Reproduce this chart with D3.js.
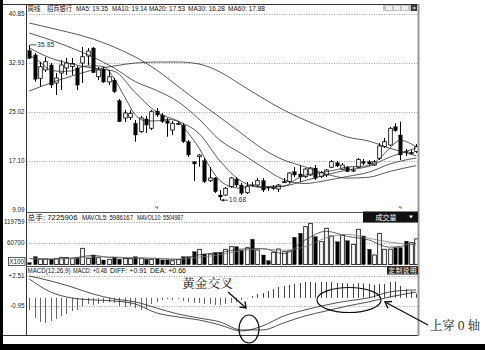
<!DOCTYPE html>
<html><head><meta charset="utf-8">
<script src="https://cdn.jsdelivr.net/npm/d3@7"></script>
<style>body{margin:0;background:#fff;} svg{display:block;}</style>
</head><body>
<svg id="c" width="485" height="350"></svg>
<script>
// ---------- data ----------
const open =[34.90,34.21,30.43,31.78,32.59,29.67,31.29,32.10,32.34,32.10,32.91,34.04,35.34,30.69,31.94,29.83,30.15,26.80,24.00,24.11,23.14,21.78,23.84,22.33,25.13,24.48,23.56,22.05,23.11,22.86,20.16,16.92,17.73,17.08,13.84,14.28,11.52,11.52,12.87,14.11,13.14,11.89,13.17,13.14,13.84,12.80,12.74,12.49,13.63,13.68,15.30,14.92,14.49,14.76,15.89,14.49,14.76,16.01,16.75,15.69,16.01,15.54,16.01,16.92,16.92,16.38,17.47,19.35,19.62,22.59,21.24,18.57,18.36,18.57];
const high =[35.85,34.53,33.12,33.88,32.91,31.29,33.40,33.72,33.72,32.42,35.50,35.34,35.50,32.26,32.26,31.78,30.48,27.08,25.29,25.29,23.67,24.32,24.32,25.29,25.62,24.81,24.00,23.51,23.51,23.19,20.43,17.03,18.17,17.52,16.06,14.44,12.33,12.82,14.44,14.44,13.46,13.63,13.63,14.28,14.28,12.98,13.14,13.30,14.28,15.25,16.06,16.38,15.89,16.06,16.38,15.41,15.73,17.19,17.03,16.71,16.22,16.06,17.52,17.35,17.19,17.19,19.95,20.76,22.54,23.14,23.40,18.97,18.81,19.78];
const low  =[33.56,29.88,29.07,31.45,28.86,27.73,28.53,30.97,30.97,28.53,29.67,32.59,31.29,30.15,29.67,29.34,28.05,23.35,23.35,23.67,20.16,21.57,21.57,22.05,24.16,23.19,20.97,21.24,22.86,19.95,17.68,13.79,16.10,13.46,13.63,11.85,10.68,11.36,12.65,12.82,11.52,11.68,12.82,12.82,12.01,12.17,12.33,12.01,13.46,13.46,14.44,13.63,14.28,14.60,13.95,14.28,14.44,15.89,16.06,15.57,15.25,15.25,15.89,16.38,16.38,16.22,17.19,19.14,19.46,21.78,17.19,17.84,18.00,18.33];
const close=[33.67,30.27,32.31,33.12,29.34,30.48,32.59,32.91,32.83,29.34,33.93,34.85,31.34,31.78,29.83,30.69,28.26,23.40,24.81,24.76,21.24,24.00,22.86,25.02,24.48,23.40,23.14,23.14,23.14,20.16,18.00,16.54,18.00,13.68,14.28,12.06,11.20,12.61,14.28,13.14,11.80,12.98,13.14,13.84,12.33,12.77,12.77,13.14,13.68,15.09,14.76,14.44,15.73,15.89,14.23,15.13,15.57,16.92,16.22,16.38,15.30,15.57,17.30,16.65,16.54,16.92,19.46,20.16,22.33,21.94,18.00,18.54,18.40,19.35];
const volume=[5300,22200,15700,15900,15600,17700,20500,20300,17700,19400,45800,17600,27000,19400,12900,14900,20500,14900,17700,17500,22200,17700,14900,14800,17700,12900,13000,11000,14900,22200,22000,36300,43000,29800,29900,33500,33400,43000,50300,50400,41100,47500,71100,41000,27000,11000,34600,43900,36300,38200,76800,88000,106600,116100,78500,64400,102100,80400,64300,83200,67200,57100,99300,80500,43000,27000,88000,43100,43500,47500,47600,65500,61600,72259];
const macdBar=[-1.4,-2.33,-2.79,-2.9,-2.68,-2.45,-2.1,-1.87,-1.52,-1.4,-0.95,-0.72,-0.83,-0.72,-0.6,-0.48,-0.6,-0.95,-1.06,-0.95,-1.18,-1.4,-1.29,-0.72,-0.48,-0.25,-0.14,-0.25,-0.14,-0.37,-0.48,-0.6,-0.6,-0.72,-0.72,-0.83,-0.83,-0.72,-0.6,-0.48,-0.25,-0.08,0.2,0.44,0.55,0.78,1.0,1.25,1.36,1.48,1.6,1.7,1.82,1.82,1.76,1.82,1.82,1.82,1.7,1.7,1.65,1.6,1.7,1.65,1.6,1.48,1.6,1.6,1.82,1.88,1.36,1.0,0.78,0.48];

const ma5Weeks=[0,2,4,6,8,10,12,14,16,18,20,22,24,26,28,30,32,34,36,38,40,42,44,46,48,50,52,54,56,58,60,62,64,66,68,70,72,73];
const ma5=[34.21,33.07,31.74,31.56,31.63,32.33,32.46,32.34,30.38,27.40,24.50,23.53,23.53,23.79,23.46,21.52,19.17,16.13,13.84,12.88,12.61,13.06,12.82,12.96,12.93,13.89,14.74,15.00,15.31,15.62,16.07,16.15,16.27,17.37,19.09,20.39,19.83,19.35];
const maWeeks=[0,4,8,12,16,20,24,28,32,36,40,44,48,52,56,60,64,68,73];
const ma10=[35.34,33.72,32.75,32.07,31.58,28.10,24.95,23.53,21.50,17.01,13.76,12.74,12.96,13.85,14.78,15.57,16.16,17.66,19.14];
const ma20=[37.77,36.64,35.34,33.88,32.10,29.90,28.47,26.67,23.84,20.37,18.25,16.04,14.02,13.38,13.87,14.52,15.20,16.53,17.53];
const ma30=[39.39,38.58,37.77,36.80,35.50,33.88,31.78,29.18,26.57,24.09,21.53,19.01,17.19,16.09,14.92,14.26,14.39,15.34,16.28];
const ma60=[28.37,29.67,30.80,31.78,32.42,32.91,33.07,33.07,32.75,31.45,29.34,27.24,25.29,23.67,22.22,20.92,20.27,19.10,17.88];
const mavol5=[17000,15000,18360,25500,18940,18560,17460,13900,27680,33920,43640,45540,30560,69180,93540,79440,69420,48920,59862];
const mavol10=[17000,16000,17000,21750,21550,18460,17280,15660,20780,27600,39070,43830,40390,50340,75090,85080,74150,63190,55049];
const diff=[2.17,0.67,-0.02,-0.25,-0.37,-0.72,-1.75,-2.21,-2.56,-3.14,-3.83,-3.25,-2.10,-1.41,-0.83,-0.37,-0.02,0.67,0.91];
const dea=[2.51,1.94,1.25,0.44,-0.14,-0.48,-1.18,-1.87,-2.33,-2.79,-3.71,-3.71,-2.90,-2.10,-1.52,-0.95,-0.48,0.09,0.66];

const priceTicks=[40.85,32.93,25.02,17.10,9.09];
const volTicks=[119759,60700];
const volTickLabels=["119759","60700"];
const macdTicks=[2.51,-0.95];
const macdTickLabels=["+2.51","-0.95"];

const priceHeader=[["周线",27.5,13],["招商银行",47,25],["MA5: 19.35",76,32],["MA10: 19.14",112,35],["MA20: 17.53",149,36],["MA30: 16.28",188,37],["MA60: 17.88",228,37]];
const volHeader=[["总手: 7225906",27.5,50],["MAVOL5: 5986167",82,51],["MAVOL10: 5504987",137,46]];
const macdHeader=[["MACD(12,26,9)",27.5,43],["MACD: +0.48",73,34],["DIFF: +0.91",110,37],["DEA: +0.66",150,36]];

// ---------- drawing ----------
const svg=d3.select('#c');
const L=26.5, R=418;
const FONT="'Liberation Sans','Noto Sans CJK SC',sans-serif";
const x=d3.scaleLinear().domain([0,73]).range([29.3,416.2]);
const yP=d3.scaleLinear().domain([9.09,40.85]).range([210,14]);
const yV=d3.scaleLinear().domain([0,119759]).range([264.6,222]);
const yM=d3.scaleLinear().domain([-0.95,2.51]).range([306,276]);

svg.append('rect').attr('width',485).attr('height',350).attr('fill','#fff');

// grid
const grid=svg.append('g').attr('stroke','#8a8a8a').attr('stroke-width',0.8).attr('stroke-dasharray','1,1.5');
priceTicks.slice(0,4).forEach(t=>grid.append('line').attr('x1',L).attr('x2',R).attr('y1',Math.round(yP(t))+0.5).attr('y2',Math.round(yP(t))+0.5));
volTicks.forEach(t=>grid.append('line').attr('x1',L).attr('x2',R).attr('y1',Math.round(yV(t))+0.5).attr('y2',Math.round(yV(t))+0.5));
macdTicks.forEach(t=>grid.append('line').attr('x1',L).attr('x2',R).attr('y1',Math.round(yM(t))+0.5).attr('y2',Math.round(yM(t))+0.5));

// axis labels
const lab=svg.append('g').attr('font-family',FONT).attr('font-size',6.3).attr('fill','#222').attr('text-anchor','end');
priceTicks.forEach(t=>lab.append('text').attr('x',24.5).attr('y',yP(t)+2.2).text(t.toFixed(2)));
volTicks.forEach((t,k)=>lab.append('text').attr('x',24.5).attr('y',yV(t)+2.2).text(volTickLabels[k]));
macdTicks.forEach((t,k)=>lab.append('text').attr('x',24.5).attr('y',yM(t)+2.2).text(macdTickLabels[k]));
svg.append('rect').attr('x',8.5).attr('y',257.5).attr('width',16.5).attr('height',8).attr('fill','none').attr('stroke','#333').attr('stroke-width',0.8);
lab.append('text').attr('x',24).attr('y',264).text('X100');

// candles
const cg=svg.append('g');
open.forEach((o,i)=>{
  const c=close[i], xc=Math.round(x(i))+0.5, up=c>=o;
  cg.append('line').attr('x1',xc).attr('x2',xc).attr('y1',yP(high[i])).attr('y2',yP(low[i])).attr('stroke','#000').attr('stroke-width',1);
  const y0=yP(Math.max(o,c)), h=Math.max(1,Math.abs(yP(o)-yP(c)));
  cg.append('rect').attr('x',xc-1.8).attr('y',y0).attr('width',3.6).attr('height',h)
    .attr('fill',up?'#fff':'#000').attr('stroke','#000').attr('stroke-width',up?0.8:0.3);
});

// volume bars
const vg=svg.append('g');
volume.forEach((v,i)=>{
  const up=close[i]>=open[i], xc=Math.round(x(i))+0.5;
  vg.append('rect').attr('x',xc-1.8).attr('y',yV(v)).attr('width',3.6).attr('height',yV(0)-yV(v))
    .attr('fill',up?'#fff':'#000').attr('stroke','#000').attr('stroke-width',up?0.8:0.3);
});

// macd bars
const mg=svg.append('g');
macdBar.forEach((m,i)=>{
  const xc=Math.round(x(i))+0.5;
  mg.append('line').attr('x1',xc).attr('x2',xc).attr('y1',yM(0)).attr('y2',yM(m)).attr('stroke',i<42?'#666':'#444').attr('stroke-width',1);
});

// lines
function drawLine(weeks,vals,ys,color,w){
  const ln=d3.line().x((d,k)=>x(weeks[k])).y(d=>ys(d)).curve(d3.curveMonotoneX);
  svg.append('path').attr('d',ln(vals)).attr('fill','none').attr('stroke',color).attr('stroke-width',w);
}
drawLine(ma5Weeks,ma5,yP,'#222',0.75);
drawLine(maWeeks,ma10,yP,'#222',0.75);
drawLine(maWeeks,ma20,yP,'#222',0.75);
drawLine(maWeeks,ma30,yP,'#222',0.75);
drawLine(maWeeks,ma60,yP,'#222',0.75);
drawLine(maWeeks,mavol5,yV,'#333',0.75);
drawLine(maWeeks,mavol10,yV,'#777',0.75);
drawLine(maWeeks,diff,yM,'#222',0.8);
drawLine(maWeeks,dea,yM,'#222',0.8);

// high / low markers
const mk=svg.append('g').attr('font-family',FONT).attr('font-size',6.3).attr('fill','#222');
mk.append('line').attr('x1',x(0)+1).attr('x2',x(0)+7).attr('y1',yP(35.85)).attr('y2',yP(35.85)).attr('stroke','#222').attr('stroke-width',0.8);
mk.append('text').attr('x',x(0)+8).attr('y',yP(35.85)+2.2).attr('textLength',17).text('35.85');
mk.append('line').attr('x1',x(36)+1).attr('x2',x(36)+8).attr('y1',yP(10.68)).attr('y2',yP(10.68)).attr('stroke','#222').attr('stroke-width',0.8);
mk.append('path').attr('d',`M${x(36)+1},${yP(10.68)} l3,-1.5 l0,3 z`).attr('fill','#222');
mk.append('text').attr('x',x(36)+9).attr('y',yP(10.68)+2.2).attr('textLength',17).text('10.68');
mk.append('text').attr('x',155).attr('y',209).attr('font-size',6).text('ч');
mk.append('text').attr('x',398.5).attr('y',209).attr('font-size',6).text('ч');

// headers
function header(items,y){
  const g=svg.append('g').attr('font-family',FONT).attr('font-size',6.5).attr('fill','#111');
  items.forEach(([t,xx,w])=>g.append('text').attr('x',xx).attr('y',y).attr('textLength',w).attr('lengthAdjust','spacingAndGlyphs').text(t));
}
header(priceHeader,11);
header(volHeader,219.5);
header(macdHeader,273.3);

// frame
const fr=svg.append('g').attr('fill','none');
fr.append('line').attr('x1',3).attr('x2',R).attr('y1',4.5).attr('y2',4.5).attr('stroke','#333');
fr.append('line').attr('x1',3).attr('x2',R).attr('y1',335.5).attr('y2',335.5).attr('stroke','#333');
fr.append('line').attr('x1',L).attr('x2',L).attr('y1',4.5).attr('y2',335.5).attr('stroke','#333');
fr.append('line').attr('x1',L).attr('x2',R).attr('y1',212.5).attr('y2',212.5).attr('stroke','#555');
fr.append('line').attr('x1',L).attr('x2',R).attr('y1',266.5).attr('y2',266.5).attr('stroke','#555');
fr.append('line').attr('x1',R+0.5).attr('x2',R+0.5).attr('y1',4).attr('y2',336).attr('stroke','#999').attr('stroke-width',2);
svg.append('rect').attr('x',0).attr('y',0).attr('width',3).attr('height',350).attr('fill','#000');
svg.append('rect').attr('x',0).attr('y',344).attr('width',485).attr('height',6).attr('fill','#000');

// top-right icon
svg.append('rect').attr('x',383).attr('y',5).attr('width',34).attr('height',6).attr('fill','#c4c4c4');
[386,394,402].forEach(xx=>svg.append('rect').attr('x',xx).attr('y',6).attr('width',6).attr('height',4).attr('fill','#eee'));
svg.append('rect').attr('x',411).attr('y',5).attr('width',6).attr('height',6).attr('fill','#333');
svg.append('path').attr('d','M412,8 h3 M414,6.5 l1.5,1.5 l-1.5,1.5').attr('stroke','#fff').attr('stroke-width',0.8).attr('fill','none');

// 成交量 box
svg.append('rect').attr('x',363).attr('y',211.5).attr('width',55).attr('height',11).attr('fill','#111');
svg.append('text').attr('x',386).attr('y',219.5).attr('text-anchor','middle').attr('font-family',FONT).attr('font-size',7).attr('fill','#fff').text('成交量');
svg.append('path').attr('d','M409,215.5 h4 l-2,3 z').attr('fill','#fff');
// 定制说明 box
svg.append('rect').attr('x',387).attr('y',266.5).attr('width',31).attr('height',8).attr('fill','#222');
svg.append('text').attr('x',402.5).attr('y',273).attr('text-anchor','middle').attr('font-family',FONT).attr('font-size',6.5).attr('fill','#fff').attr('textLength',28).text('定制说明');

// annotations
const an=svg.append('g').attr('stroke','#111').attr('fill','none');
an.append('ellipse').attr('cx',249).attr('cy',329).attr('rx',10).attr('ry',14).attr('stroke-width',1.2);
an.append('ellipse').attr('cx',349).attr('cy',300).attr('rx',32).attr('ry',12.5).attr('stroke-width',1.2);
an.append('line').attr('x1',228).attr('y1',292).attr('x2',246).attr('y2',308).attr('stroke-width',1.4);
an.append('path').attr('d','M239.5,307 L246,308 L245,301.5').attr('stroke-width',1.4);
an.append('line').attr('x1',428).attr('y1',325).attr('x2',385).attr('y2',302).attr('stroke-width',1.4);
an.append('path').attr('d','M388,308.5 L385,302 L392,301.5').attr('stroke-width',1.4);
const at=svg.append('g').attr('font-family',"'Noto Serif CJK SC','Noto Sans CJK SC',serif").attr('fill','#111');
at.append('text').attr('x',182).attr('y',288).attr('font-size',12.5).attr('textLength',51).attr('lengthAdjust','spacingAndGlyphs').text('黄金交叉');
at.append('text').attr('x',430).attr('y',329.5).attr('font-size',12).attr('textLength',50).attr('lengthAdjust','spacingAndGlyphs').text('上穿 0 轴');
</script>
</body></html>
